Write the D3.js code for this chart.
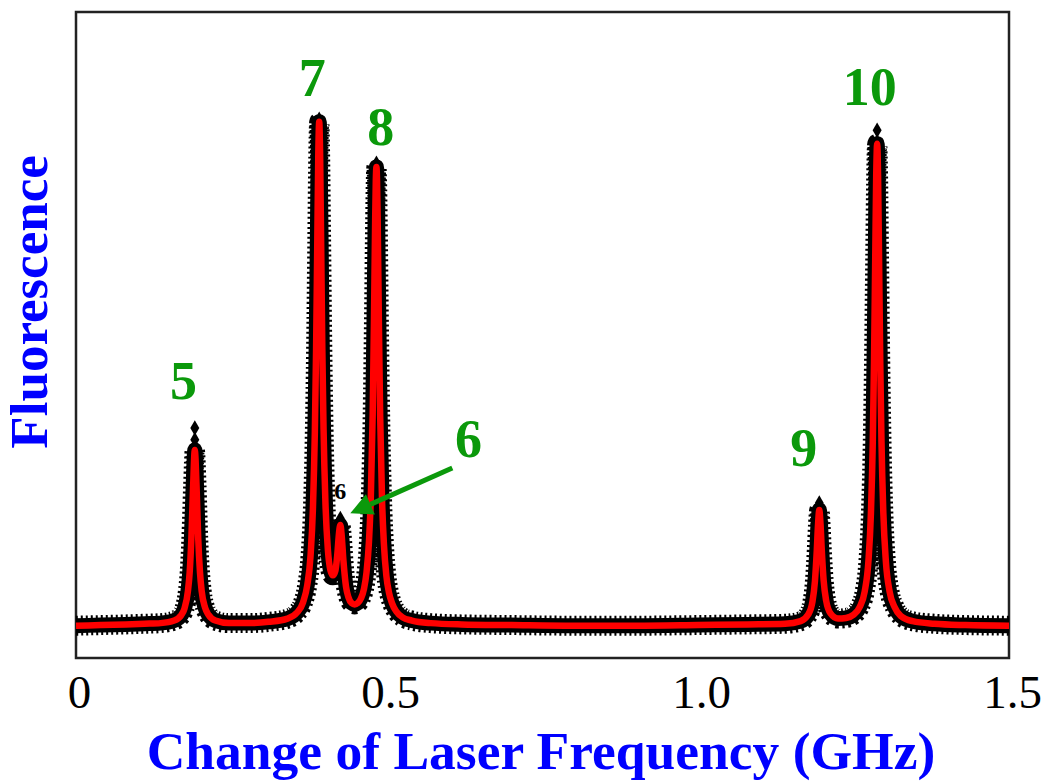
<!DOCTYPE html>
<html>
<head>
<meta charset="utf-8">
<script src="https://cdn.jsdelivr.net/npm/d3@7"></script>
<style>
  body { margin: 0; background: #fff; }
  svg { display: block; }
</style>
</head>
<body>
<div id="chart"></div>
<script>
// fitted spectrum (GHz, arbitrary fluorescence)
const freqGHz = [
  0.000, 0.040, 0.080, 0.110, 0.136, 0.158, 0.169, 0.1745, 0.180, 0.1828,
  0.1855, 0.1883, 0.191, 0.1938, 0.1965, 0.1993, 0.202, 0.2075, 0.213, 0.224,
  0.246, 0.280, 0.310, 0.340, 0.355, 0.365, 0.372, 0.377, 0.381, 0.384,
  0.386, 0.388, 0.3895, 0.391, 0.3925, 0.394, 0.396, 0.398, 0.401, 0.405,
  0.409, 0.413, 0.417, 0.420, 0.423, 0.425, 0.427, 0.430, 0.434, 0.438,
  0.443, 0.448, 0.453, 0.458, 0.463, 0.467, 0.471, 0.474, 0.477, 0.479,
  0.481, 0.482, 0.483, 0.484, 0.485, 0.487, 0.489, 0.492, 0.495, 0.499,
  0.503, 0.508, 0.515, 0.525, 0.540, 0.570, 0.620, 0.700, 0.800, 0.900,
  1.000, 1.080, 1.140, 1.165, 1.177, 1.184, 1.188, 1.191, 1.193, 1.195,
  1.197, 1.199, 1.202, 1.206, 1.213, 1.225, 1.238, 1.250, 1.260, 1.268,
  1.274, 1.278, 1.281, 1.283, 1.285, 1.2865, 1.288, 1.2895, 1.291, 1.293,
  1.295, 1.298, 1.302, 1.308, 1.316, 1.326, 1.345, 1.380, 1.430, 1.500
];
const fluorescence = [
  5.0, 5.1, 5.2, 5.3, 5.4, 5.8, 6.6, 7.7, 10.4, 13.3,
  18.5, 26.6, 32.2, 26.6, 18.5, 13.3, 10.4, 7.8, 6.7, 5.8,
  5.4, 5.4, 5.6, 6.1, 7.0, 8.6, 11.4, 15.7, 23.4, 35.0,
  47.7, 65.0, 77.6, 83.0, 77.7, 65.1, 47.9, 35.4, 24.1, 16.7,
  13.6, 12.8, 13.5, 15.9, 19.5, 20.6, 19.1, 15.0, 11.1, 9.4,
  8.5, 8.3, 8.5, 9.2, 10.7, 13.2, 18.0, 24.9, 37.8, 51.7,
  68.0, 73.9, 76.0, 73.8, 67.8, 51.4, 37.5, 24.6, 17.7, 12.7,
  10.2, 8.5, 7.2, 6.3, 5.8, 5.4, 5.2, 5.1, 5.0, 5.0,
  5.1, 5.2, 5.3, 5.7, 6.7, 8.7, 11.9, 16.7, 20.7, 22.9,
  20.7, 16.7, 12.0, 8.9, 6.9, 6.1, 6.2, 6.7, 7.9, 10.3,
  15.0, 22.4, 33.5, 45.9, 62.5, 74.6, 79.6, 74.6, 62.5, 45.9,
  33.5, 22.4, 15.0, 10.3, 7.9, 6.5, 5.7, 5.3, 5.1, 5.0
];

// highest measured points sitting above the fit
const topFreq = [0.191, 0.191, 0.391, 0.425, 0.483, 1.195, 1.288, 1.288];
const topValue = [35.6, 33.8, 83.4, 21.6, 76.6, 24.0, 81.7, 79.9];

const tickValues = [0, 0.5, 1.0, 1.5];
const tickLabels = ['0', '0.5', '1.0', '1.5'];

const peakNames = ['5', '7', '8', '6', '9', '10'];

class SpectrumChart {
    constructor() {
        this.width = 1044;
        this.height = 781;
        this.frame = {left: 76, top: 12, right: 1009, bottom: 658};
        this.green = '#0b990b';
        this.font = '"Liberation Serif", "Times New Roman", serif';
        this.setup();
        this.drawFrame();
        this.drawData();
        this.drawAxis();
        this.drawLabels();
    }

    setup() {
        this.svg = d3.select('#chart').append('svg')
            .attr('width', this.width)
            .attr('height', this.height);

        this.x = d3.scaleLinear()
            .domain([0, 1.5])
            .range([this.frame.left, this.frame.right]);
        this.y = d3.scaleLinear()
            .domain([0, 100])
            .range([this.frame.bottom, this.frame.top]);

        this.points = freqGHz.map((f, i) => [f, fluorescence[i]]);
    }

    drawFrame() {
        const f = this.frame;
        this.svg.append('rect')
            .attr('x', f.left)
            .attr('y', f.top)
            .attr('width', f.right - f.left)
            .attr('height', f.bottom - f.top)
            .attr('fill', 'none')
            .attr('stroke', '#222')
            .attr('stroke-width', 2.5);
    }

    drawData() {
        const line = d3.line()
            .x(d => this.x(d[0]))
            .y(d => this.y(d[1]))
            .curve(d3.curveMonotoneX);

        const g = this.svg.append('g');

        // measured points: a speckled black band under the fit
        g.append('path')
            .attr('d', line(this.points))
            .attr('fill', 'none')
            .attr('stroke', '#000')
            .attr('stroke-width', 20)
            .attr('stroke-dasharray', '2,3')
            .attr('stroke-linejoin', 'round');
        g.append('path')
            .attr('d', line(this.points))
            .attr('fill', 'none')
            .attr('stroke', '#000')
            .attr('stroke-width', 15)
            .attr('stroke-linejoin', 'round');

        const diamond = d3.symbol().type(d3.symbolDiamond).size(70);
        g.selectAll('.top')
            .data(topFreq.map((f, i) => [f, topValue[i]]))
            .enter()
            .append('path')
            .attr('class', 'top')
            .attr('d', diamond)
            .attr('transform', d => `translate(${this.x(d[0])},${this.y(d[1])})`)
            .attr('fill', '#000');

        // fit
        g.append('path')
            .attr('d', line(this.points))
            .attr('fill', 'none')
            .attr('stroke', '#ff0000')
            .attr('stroke-width', 6.5)
            .attr('stroke-linejoin', 'round');
    }

    drawAxis() {
        const axis = d3.axisBottom(this.x)
            .tickValues(tickValues)
            .tickFormat((d, i) => tickLabels[i])
            .tickSize(0)
            .tickPadding(0);

        const g = this.svg.append('g')
            .attr('transform', `translate(0,${this.frame.bottom})`)
            .call(axis);
        g.select('.domain').remove();
        g.selectAll('text')
            .attr('y', 50)
            .attr('dy', 0)
            .attr('dx', 3)
            .style('font-family', this.font)
            .style('font-size', '47px')
            .attr('fill', '#000');

        this.svg.append('text')
            .attr('x', 541)
            .attr('y', 769)
            .attr('text-anchor', 'middle')
            .style('font-family', this.font)
            .style('font-weight', 'bold')
            .style('font-size', '53.5px')
            .attr('fill', '#0000ff')
            .text('Change of Laser Frequency (GHz)');

        this.svg.append('text')
            .attr('transform', 'translate(47,302) rotate(-90)')
            .attr('text-anchor', 'middle')
            .style('font-family', this.font)
            .style('font-weight', 'bold')
            .style('font-size', '53px')
            .attr('fill', '#0000ff')
            .text('Fluorescence');
    }

    drawLabels() {
        // label anchors in data units
        const spots = [[0.173, 40.1], [0.380, 87.0], [0.490, 79.4], [0.631, 31.1], [1.170, 29.7], [1.276, 85.6]];

        this.svg.selectAll('.peak')
            .data(peakNames)
            .enter()
            .append('text')
            .attr('class', 'peak')
            .attr('x', (d, i) => this.x(spots[i][0]))
            .attr('y', (d, i) => this.y(spots[i][1]))
            .attr('text-anchor', 'middle')
            .style('font-family', this.font)
            .style('font-weight', 'bold')
            .style('font-size', '54px')
            .attr('fill', this.green)
            .text(d => d);

        // small in-plot tag for the weak line
        this.svg.append('text')
            .attr('x', this.x(0.425))
            .attr('y', this.y(24.6))
            .attr('text-anchor', 'middle')
            .style('font-family', this.font)
            .style('font-weight', 'bold')
            .style('font-size', '24px')
            .attr('fill', '#000')
            .text('6');

        // arrow from the big 6 down to the weak peak
        const tail = [this.x(0.605), this.y(29.4)];
        const tip = [this.x(0.441), this.y(22.4)];
        const dx = tip[0] - tail[0], dy = tip[1] - tail[1];
        const len = Math.hypot(dx, dy);
        const ux = dx / len, uy = dy / len;
        const headLen = 22, headHalf = 11;
        const base = [tip[0] - ux * headLen, tip[1] - uy * headLen];

        this.svg.append('line')
            .attr('x1', tail[0]).attr('y1', tail[1])
            .attr('x2', base[0]).attr('y2', base[1])
            .attr('stroke', this.green)
            .attr('stroke-width', 5);
        this.svg.append('path')
            .attr('d', `M${tip[0]},${tip[1]}` +
                `L${base[0] - uy * headHalf},${base[1] + ux * headHalf}` +
                `L${base[0] + uy * headHalf},${base[1] - ux * headHalf}Z`)
            .attr('fill', this.green);
    }
}

const spectrumChart = new SpectrumChart();
</script>
</body>
</html>
